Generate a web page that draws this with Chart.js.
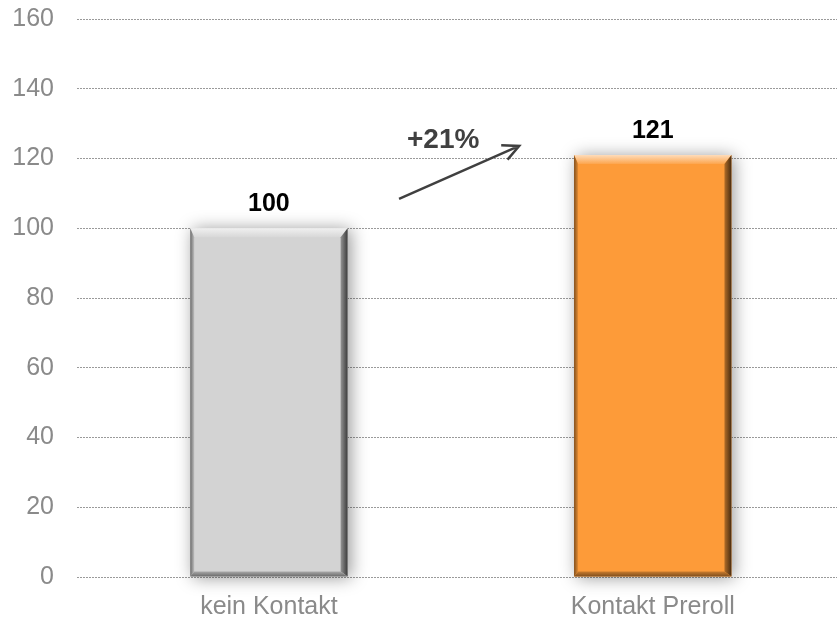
<!DOCTYPE html>
<html>
<head>
<meta charset="utf-8">
<script src="https://cdn.jsdelivr.net/npm/chart.js@4"></script>
<style>
  html, body { margin: 0; padding: 0; background: #fff; }
  #wrap { width: 837px; height: 619px; }
</style>
</head>
<body>
<div id="wrap"><canvas id="barChart" width="837" height="619"></canvas></div>
<script>
const categories = ['kein Kontakt', 'Kontakt Preroll'];
const values = [100, 121];
const barColors = ['#d3d3d3', '#fd9b39'];
const yTicks = [0, 20, 40, 60, 80, 100, 120, 140, 160];
const growthLabel = '+21%';
// arrow between the bars, in axis units (category index, value)
const arrowFrom = [0.339, 108.4];
const arrowTo = [0.652, 123.6];
const growthLabelAt = [0.454, 125.3];

const FONT = '"Liberation Sans", Arial, sans-serif';

function shade(hex, amt) {
    const n = parseInt(hex.slice(1), 16);
    let r = (n >> 16) & 255, g = (n >> 8) & 255, b = n & 255;
    const f = c => Math.max(0, Math.min(255, Math.round(amt < 0 ? c * (1 + amt) : c + (255 - c) * amt)));
    return 'rgb(' + f(r) + ',' + f(g) + ',' + f(b) + ')';
}

// soft drop shadow behind bars, bevel edges and value labels on top
const bevelBars = {
    id: 'bevelBars',
    beforeDatasetsDraw(chart) {
        const ctx = chart.ctx;
        chart.getDatasetMeta(0).data.forEach(bar => {
            const x0 = bar.x - bar.width / 2;
            ctx.save();
            ctx.shadowColor = 'rgba(0,0,0,0.4)';
            ctx.shadowBlur = 16;
            ctx.shadowOffsetX = 3;
            ctx.shadowOffsetY = 1;
            ctx.fillStyle = '#fff';
            ctx.fillRect(x0, bar.y, bar.width, bar.base - bar.y);
            ctx.restore();
        });
    },
    afterDatasetsDraw(chart) {
        const ctx = chart.ctx;
        chart.getDatasetMeta(0).data.forEach((bar, i) => {
            const c = barColors[i];
            const x0 = bar.x - bar.width / 2, x1 = bar.x + bar.width / 2;
            const y0 = bar.y, y1 = bar.base;
            const t = 9, l = 4, r = 7, b = 5;
            ctx.save();
            // top bevel
            let g = ctx.createLinearGradient(0, y0, 0, y0 + t);
            g.addColorStop(0, shade(c, 0.65));
            g.addColorStop(1, shade(c, 0.1));
            ctx.fillStyle = g;
            ctx.beginPath();
            ctx.moveTo(x0, y0); ctx.lineTo(x1, y0); ctx.lineTo(x1 - r, y0 + t); ctx.lineTo(x0 + l, y0 + t);
            ctx.closePath(); ctx.fill();
            // left bevel
            g = ctx.createLinearGradient(x0, 0, x0 + l, 0);
            g.addColorStop(0, shade(c, -0.5));
            g.addColorStop(1, shade(c, -0.1));
            ctx.fillStyle = g;
            ctx.beginPath();
            ctx.moveTo(x0, y0); ctx.lineTo(x0 + l, y0 + t); ctx.lineTo(x0 + l, y1 - b); ctx.lineTo(x0, y1);
            ctx.closePath(); ctx.fill();
            // right bevel
            g = ctx.createLinearGradient(x1 - r, 0, x1, 0);
            g.addColorStop(0, shade(c, -0.3));
            g.addColorStop(1, shade(c, -0.72));
            ctx.fillStyle = g;
            ctx.beginPath();
            ctx.moveTo(x1, y0); ctx.lineTo(x1, y1); ctx.lineTo(x1 - r, y1 - b); ctx.lineTo(x1 - r, y0 + t);
            ctx.closePath(); ctx.fill();
            // bottom bevel
            g = ctx.createLinearGradient(0, y1 - b, 0, y1);
            g.addColorStop(0, shade(c, -0.2));
            g.addColorStop(1, shade(c, -0.5));
            ctx.fillStyle = g;
            ctx.beginPath();
            ctx.moveTo(x0, y1); ctx.lineTo(x0 + l, y1 - b); ctx.lineTo(x1 - r, y1 - b); ctx.lineTo(x1, y1);
            ctx.closePath(); ctx.fill();
            ctx.restore();

            // value label
            ctx.save();
            ctx.font = 'bold 25px ' + FONT;
            ctx.fillStyle = '#000';
            ctx.textAlign = 'center';
            ctx.textBaseline = 'alphabetic';
            ctx.fillText(String(values[i]), bar.x, bar.y - 17);
            ctx.restore();
        });

        // growth arrow
        const xs = chart.scales.x, ys = chart.scales.y;
        const px = v => xs.getPixelForValue(v);
        const ax0 = px(arrowFrom[0]), ay0 = ys.getPixelForValue(arrowFrom[1]);
        const ax1 = px(arrowTo[0]), ay1 = ys.getPixelForValue(arrowTo[1]);
        ctx.save();
        ctx.strokeStyle = '#404040';
        ctx.lineWidth = 2.5;
        ctx.beginPath();
        ctx.moveTo(ax0, ay0); ctx.lineTo(ax1, ay1);
        const ang = Math.atan2(ay1 - ay0, ax1 - ax0);
        const hl = 18;
        ctx.moveTo(ax1 - hl * Math.cos(ang - 0.45), ay1 - hl * Math.sin(ang - 0.45));
        ctx.lineTo(ax1, ay1);
        ctx.lineTo(ax1 - hl * Math.cos(ang + 0.45), ay1 - hl * Math.sin(ang + 0.45));
        ctx.stroke();
        ctx.font = 'bold 28px ' + FONT;
        ctx.fillStyle = '#404040';
        ctx.textAlign = 'center';
        ctx.textBaseline = 'middle';
        ctx.fillText(growthLabel, px(growthLabelAt[0]), ys.getPixelForValue(growthLabelAt[1]));
        ctx.restore();
    }
};

const ctx = document.getElementById('barChart').getContext('2d');
const barChart = new Chart(ctx, {
    type: 'bar',
    data: {
        datasets: [{
            data: values.map((v, i) => ({ x: i, y: v })),
            backgroundColor: barColors,
            borderWidth: 0,
            barPercentage: 0.41,
            categoryPercentage: 1
        }]
    },
    options: {
        responsive: false,
        animation: false,
        layout: { padding: { top: 19, right: 0, bottom: 0, left: 0 } },
        plugins: {
            legend: { display: false },
            tooltip: { enabled: false }
        },
        scales: {
            y: {
                min: 0,
                max: 160,
                afterBuildTicks: axis => { axis.ticks = yTicks.map(v => ({ value: v })); },
                afterFit: axis => {
                    axis.width = 77;
                    axis.paddingTop = 0;
                    axis.paddingBottom = 0;
                },
                grid: { color: '#9a9a9a', lineWidth: 1, drawTicks: false },
                border: { display: false, dash: [2, 1] },
                ticks: {
                    padding: 23,
                    color: '#8a8a8a',
                    font: { family: FONT, size: 25 }
                }
            },
            x: {
                type: 'linear',
                offset: false,
                min: -0.5,
                max: 1.48,
                afterBuildTicks: axis => { axis.ticks = categories.map((c, i) => ({ value: i })); },
                afterFit: axis => {
                    axis.height = 42;
                    axis.paddingLeft = 0;
                    axis.paddingRight = 0;
                },
                grid: { display: false },
                border: { display: false },
                ticks: {
                    padding: 7,
                    color: '#8a8a8a',
                    maxRotation: 0,
                    font: { family: FONT, size: 25 },
                    callback: v => categories[v]
                }
            }
        }
    },
    plugins: [bevelBars]
});
</script>
</body>
</html>
